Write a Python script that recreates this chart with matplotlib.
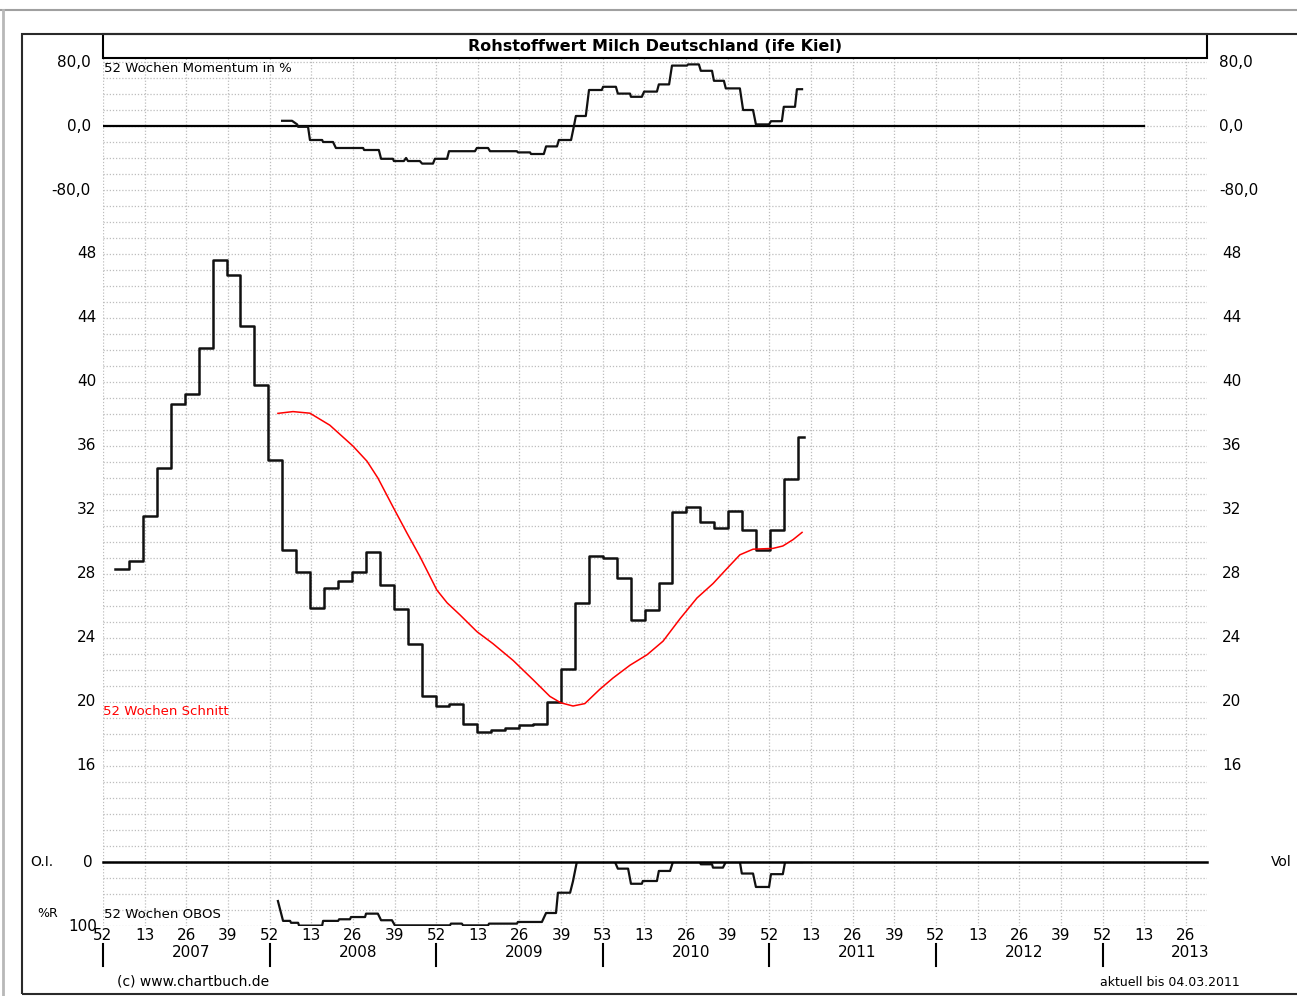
import numpy as np
import matplotlib
matplotlib.use('agg')
import matplotlib.pyplot as plt
from matplotlib.patches import Rectangle
from matplotlib.lines import Line2D
import matplotlib.transforms as mtransforms

W, H = 1297, 996

# monthly milk raw value, Jan 2007 .. Feb 2011 (one step per month)
price = [28.3, 28.8, 31.6, 34.6, 38.6, 39.25, 42.1, 47.6, 46.7, 43.5, 39.8, 35.1,
         29.5, 28.1, 25.85, 27.1, 27.55, 28.15, 29.35, 27.3, 25.8, 23.65, 20.35, 19.75,
         19.85, 18.65, 18.15, 18.25, 18.35, 18.55, 18.65, 20.0, 22.05, 26.2, 29.1, 29.0,
         27.75, 25.15, 25.75, 27.45, 31.85, 32.2, 31.25, 30.9, 31.95, 30.75, 29.5, 30.75,
         33.95, 36.55]
first_week = 3.75     # chart weeks counted from week 52/2006
month_len = 4.35
last_week = 218.8     # data up to 04.03.2011

# 52 Wochen Schnitt (red): (week, value)
avg52 = [(54.6, 38.04), (59.3, 38.15), (64.6, 38.05), (70.8, 37.3), (78.0, 36.0),
         (82.4, 35.05), (85.8, 34.0), (90.5, 32.2), (94.9, 30.55), (98.9, 29.1),
         (104.2, 27.0), (107.4, 26.2), (111.4, 25.45), (116.7, 24.4), (121.7, 23.65),
         (128.0, 22.6), (134.2, 21.4), (139.5, 20.35), (142.9, 19.95), (146.7, 19.75),
         (150.4, 19.9), (155.1, 20.8), (159.2, 21.5), (164.5, 22.3), (169.8, 22.95),
         (174.8, 23.8), (180.1, 25.2), (185.4, 26.5), (190.4, 27.4), (194.8, 28.35),
         (198.8, 29.2), (202.9, 29.55), (209.1, 29.6), (212.2, 29.75), (215.4, 30.15),
         (218.2, 30.6)]

# 52 Wochen Momentum in %
momentum = [(55.9, 6.5), (59.0, 6.5), (60.6, 2), (60.9, -1), (64.0, -1), (64.6, -17.5),
            (68.4, -17.5), (68.7, -20), (71.8, -20), (72.7, -27.5), (81.2, -27.5),
            (81.5, -30), (86.1, -30), (86.8, -41), (90.5, -41), (90.8, -43.8),
            (93.9, -43.8), (94.6, -40), (95.2, -43.8), (98.9, -43.8), (99.6, -47),
            (103.0, -47), (103.6, -41), (107.4, -41), (108.0, -31.5), (116.1, -31.5),
            (116.7, -27.5), (120.2, -27.5), (120.8, -31.5), (129.2, -31.5), (129.5, -33),
            (133.3, -33), (133.6, -35), (137.6, -35), (138.3, -25.5), (141.7, -25.5),
            (142.3, -17.5), (146.1, -17.5), (147.0, 0), (147.6, 12.5), (150.7, 12.5),
            (151.7, 45), (155.7, 45), (156.1, 49), (160.1, 49), (160.7, 40.5),
            (164.5, 40.5), (164.8, 36.5), (168.2, 36.5), (168.9, 43), (172.9, 43),
            (173.5, 52), (176.7, 52), (177.6, 75.5), (182.3, 75.5), (182.6, 77),
            (186.0, 77), (186.6, 69), (190.1, 69), (190.7, 56.5), (193.8, 56.5),
            (194.4, 47), (198.8, 47), (199.8, 20), (202.9, 20), (203.8, 2), (207.9, 2),
            (208.5, 6), (211.9, 6), (212.5, 24), (216.0, 24), (216.6, 46), (218.2, 46)]

# 52 Wochen OBOS (%R, 0 on top)
obos = [(54.6, 61), (56.2, 92), (58.4, 92), (58.7, 95), (60.9, 95), (61.2, 99.4),
        (68.4, 99.4), (68.7, 92), (73.4, 92), (73.7, 89.5), (77.1, 89.5), (77.4, 86),
        (81.8, 86), (82.1, 80.7), (85.8, 80.7), (86.8, 91), (90.2, 91), (91.1, 99),
        (108.3, 99), (108.6, 96.3), (112.0, 96.3), (112.4, 99), (120.2, 99),
        (120.5, 96.3), (129.2, 96.3), (129.5, 93.7), (137.0, 93.7), (138.3, 79.7),
        (141.4, 79.7), (142.0, 48), (145.8, 48), (146.7, 30), (147.9, 0), (159.8, 0),
        (160.7, 10.4), (163.9, 10.4), (164.8, 34), (168.2, 34), (168.5, 29.7),
        (172.9, 29.7), (173.5, 14), (177.0, 14), (177.9, 0), (186.3, 0), (186.6, 3.6),
        (190.1, 3.6), (190.4, 8.8), (193.5, 8.8), (194.4, 0), (198.8, 0), (199.4, 18),
        (202.9, 18), (203.8, 39), (207.9, 39), (208.5, 19), (212.2, 19), (212.9, 0),
        (218.2, 0)]

week_ticks = list(range(0, 339, 13))
week_labels = ['52', '13', '26', '39', '52', '13', '26', '39', '52', '13', '26', '39',
               '53', '13', '26', '39', '52', '13', '26', '39', '52', '13', '26', '39',
               '52', '13', '26']
years = ['2007', '2008', '2009', '2010', '2011', '2012', '2013']

price_labels = [16, 20, 24, 28, 32, 36, 40, 44, 48]
mom_labels = [80, 0, -80]

fig = plt.figure(figsize=(W / 100, H / 100), dpi=100, facecolor='white')


def fy(py):
    return 1 - py / H


def rect(top, bottom):
    return [103 / W, fy(bottom), (1207 - 103) / W, (bottom - top) / H]


ax_m = fig.add_axes(rect(58, 222))
ax_p = fig.add_axes(rect(222, 862))
ax_o = fig.add_axes(rect(862, 926))

grid_kw = dict(color='#bdbdbd', linestyle=(0, (1, 1.5)), linewidth=0.9)
for ax in (ax_m, ax_p, ax_o):
    ax.set_xlim(0, 344.6)
    ax.set_xticks(week_ticks)
    for s in ax.spines.values():
        s.set_visible(False)
    ax.tick_params(length=0, labelbottom=False, labelleft=False)
    ax.grid(True, **grid_kw)
    ax.set_axisbelow(True)
    ax.patch.set_alpha(0)

ax_m.set_ylim(-120, 85)
ax_m.set_yticks(np.arange(-120, 81, 20))
ax_p.set_ylim(10, 50)
ax_p.set_yticks(np.arange(10, 51, 1))
ax_o.set_ylim(100, 0)
ax_o.set_yticks([0, 25, 50, 75, 100])

# price steps
x_month = [first_week + i * month_len for i in range(len(price))]
ax_p.step(x_month + [last_week], price + [price[-1]], where='post', color='#111111', lw=1.8)
ax_p.plot([a for a, b in avg52], [b for a, b in avg52], color='#ff0000', lw=1.1)
ax_p.text(0, 19.8, '52 Wochen Schnitt', color='#ff0000', fontsize=9.5, va='top',
          transform=ax_p.transData)

# momentum
ax_m.plot([0, 325], [0, 0], color='black', lw=1.6)
ax_m.plot([a for a, b in momentum], [b for a, b in momentum], color='#111111', lw=1.6)
ax_m.text(0.3, 80, '52 Wochen Momentum in %', fontsize=9.5, va='top')

# obos
ax_o.axhline(0, color='black', lw=1.8, clip_on=False, zorder=5)
ax_o.plot([a for a, b in obos], [b for a, b in obos], color='#111111', lw=1.6)
ax_o.text(0.3, 72, '52 Wochen OBOS', fontsize=9.5, va='top')

# axis labels (left and right)
tf = 11
for ax, vals, fmt, lx, rx in ((ax_p, price_labels, '{:d}', 96, 1222),
                              (ax_m, mom_labels, '{:.1f}', 91, 1219)):
    tr = mtransforms.blended_transform_factory(fig.transFigure, ax.transData)
    for v in vals:
        s = fmt.format(v).replace('.', ',')
        ax.text(lx / W, v, s, transform=tr, ha='right', va='center', fontsize=tf)
        ax.text(rx / W, v, s, transform=tr, ha='left', va='center', fontsize=tf)

fig.text(30 / W, fy(862), 'O.I.', fontsize=10, va='center')
fig.text(93 / W, fy(862), '0', fontsize=tf, va='center', ha='right')
fig.text(37 / W, fy(913), '%R', fontsize=9, va='center')
fig.text(97 / W, fy(926), '100', fontsize=tf, va='center', ha='right')
fig.text(1271 / W, fy(862), 'Vol', fontsize=10, va='center')

# x axis: weeks, years and separators
trx = mtransforms.blended_transform_factory(ax_o.transData, fig.transFigure)
for w, lab in zip(week_ticks, week_labels):
    ax_o.text(w, fy(935), lab, transform=trx, ha='center', va='center', fontsize=tf)
for i, y in enumerate(years):
    ax_o.text(i * 52 + 27.5, fy(952), y, transform=trx, ha='center', va='center', fontsize=tf)
    if i < 7:
        fig.add_artist(Line2D([i * 52, i * 52], [fy(944), fy(966)], transform=trx,
                              color='black', lw=1.5))

# title box
fig.add_artist(Rectangle((103 / W, fy(58)), 1104 / W, 24 / H, transform=fig.transFigure,
                         facecolor='white', edgecolor='black', lw=1.5))
fig.text(655 / W, fy(46.5), 'Rohstoffwert Milch Deutschland (ife Kiel)', fontsize=11.5,
         fontweight='bold', ha='center', va='center')

# outer frame and window edges
fig.add_artist(Rectangle((22 / W, fy(994)), 1300 / W, (994 - 34) / H, transform=fig.transFigure,
                         fill=False, edgecolor='#2a2a2a', lw=1.5))
fig.add_artist(Line2D([0, 1], [fy(10), fy(10)], transform=fig.transFigure, color='#a0a0a0', lw=1.5))
fig.add_artist(Line2D([3 / W, 3 / W], [fy(10), 0], transform=fig.transFigure, color='#b8b8b8', lw=2))

fig.text(117 / W, fy(981), '(c) www.chartbuch.de', fontsize=10, va='center')
fig.text(1240 / W, fy(982), 'aktuell bis 04.03.2011', fontsize=9, va='center', ha='right')

plt.savefig('out.png', dpi=100, facecolor='white')
